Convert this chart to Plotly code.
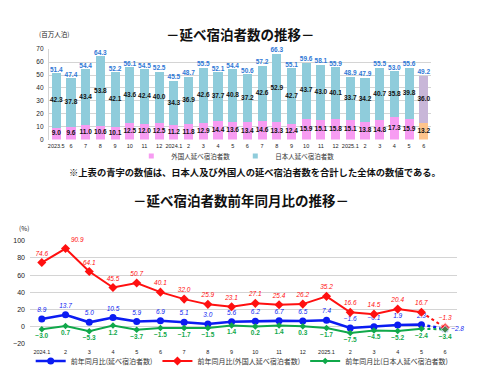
import plotly.graph_objects as go

# ---------------- data ----------------
months_top = ["2023.5", "6", "7", "8", "9", "10", "11", "12", "2024.1", "2", "3", "4", "5",
              "6", "7", "8", "9", "10", "11", "12", "2025.1", "2", "3", "4", "5", "6"]
total = [51.4, 47.4, 54.4, 64.3, 52.2, 56.1, 54.5, 52.5, 45.5, 48.7, 55.5, 52.1, 54.4,
         50.6, 57.2, 66.3, 55.1, 59.6, 58.1, 55.9, 48.9, 47.9, 55.5, 53.0, 55.6, 49.2]
japanese = [42.3, 37.8, 43.4, 53.8, 42.1, 43.6, 42.4, 40.0, 34.3, 36.9, 42.6, 37.7, 40.8,
            37.2, 42.6, 52.9, 42.7, 43.7, 43.0, 40.1, 33.7, 34.2, 40.7, 35.8, 39.8, 36.0]
foreign = [9.0, 9.6, 11.0, 10.6, 10.1, 12.5, 12.0, 12.5, 11.2, 11.8, 12.9, 14.4, 13.6,
           13.4, 14.6, 13.3, 12.4, 15.9, 15.1, 15.8, 15.1, 13.8, 14.8, 17.3, 15.9, 13.2]

months_bottom = ["2024.1", "2", "3", "4", "5", "6", "7", "8", "9", "10", "11", "12",
                 "2025.1", "2", "3", "4", "5", "6"]
yoy_total = [8.9, 13.7, 5.0, 10.5, 5.9, 6.9, 5.1, 3.0, 5.6, 6.2, 6.7, 6.5, 7.4, -1.6, -0.1, 1.9, 2.3, -2.8]
yoy_foreign = [74.6, 90.9, 64.1, 45.5, 50.7, 40.1, 32.0, 25.9, 23.1, 27.1, 25.4, 26.2, 35.2,
               16.6, 14.5, 20.4, 16.7, -1.3]
yoy_japanese = [-3.0, 0.7, -5.3, 1.2, -3.7, -1.5, -1.7, -1.5, 1.4, 0.2, 1.4, 0.3, -1.7,
                -7.5, -4.5, -5.2, -2.4, -3.4]

# ---------------- styles ----------------
JP = "Noto Sans CJK JP"
NUM = "Liberation Sans"
C_JP = "#8FCCDB"
C_FO = "#F79CF2"
C_JP_LAST = "#C8B6D8"
C_FO_LAST = "#FFC48C"
C_TOT = "#2F78D6"
BLUE = "#0B1CF2"
RED = "#FF1010"
GREEN = "#10A84A"
GRID = "#D4D4D4"


def fmt(v):
    s = f"{v:.1f}"
    return s.replace("-", "−")


fig = go.Figure()

# ---------------- top chart ----------------
xt = list(range(len(months_top)))
n = len(xt)
fig.add_trace(go.Bar(x=xt, y=foreign, width=0.62, showlegend=False,
                     marker=dict(color=[C_FO] * (n - 1) + [C_FO_LAST], line=dict(width=0)),
                     xaxis="x", yaxis="y", hoverinfo="skip"))
fig.add_trace(go.Bar(x=xt, y=japanese, width=0.62, showlegend=False,
                     marker=dict(color=[C_JP] * (n - 1) + [C_JP_LAST], line=dict(width=0)),
                     xaxis="x", yaxis="y", hoverinfo="skip"))
# inside labels
lab_font = dict(family=NUM, size=6.5, color="#111111", weight="bold")
fig.add_trace(go.Scatter(x=xt, y=[f / 2 for f in foreign], mode="text", cliponaxis=False,
                         text=[fmt(v) for v in foreign], showlegend=False, textfont=lab_font,
                         xaxis="x", yaxis="y", hoverinfo="skip"))
fig.add_trace(go.Scatter(x=xt, y=[f + j / 2 for f, j in zip(foreign, japanese)], mode="text",
                         cliponaxis=False, text=[fmt(v) for v in japanese], showlegend=False,
                         textfont=lab_font, xaxis="x", yaxis="y", hoverinfo="skip"))
fig.add_trace(go.Scatter(x=xt, y=total, mode="text", textposition="top center", cliponaxis=False,
                         text=[fmt(v) for v in total], showlegend=False,
                         textfont=dict(family=NUM, size=6.5, color=C_TOT, weight="bold"),
                         xaxis="x", yaxis="y", hoverinfo="skip"))
# legend entries for top chart
fig.add_trace(go.Scatter(x=[None], y=[None], mode="markers", name="外国人延べ宿泊者数",
                         marker=dict(symbol="square", size=5, color=C_FO),
                         legend="legend", xaxis="x", yaxis="y"))
fig.add_trace(go.Scatter(x=[None], y=[None], mode="markers", name="日本人延べ宿泊者数",
                         marker=dict(symbol="square", size=5, color=C_JP),
                         legend="legend", xaxis="x", yaxis="y"))

# ---------------- bottom chart ----------------
xb = list(range(len(months_bottom)))
m = len(xb)
series = [
    ("前年同月比(延べ宿泊者数)", yoy_total, BLUE, "circle", 7, 2.6, "italic", "normal"),
    ("前年同月比(外国人延べ宿泊者数)", yoy_foreign, RED, "diamond", 7, 2.0, "italic", "normal"),
    ("前年同月比(日本人延べ宿泊者数)", yoy_japanese, GREEN, "diamond", 5, 2.0, "normal", "bold"),
]
pos_map = {
    0: ["top center"] * (m - 1) + ["middle right"],
    1: ["top center", "top right"] + ["top center"] * (m - 2),
    2: ["bottom center"] * m,
}
for k, (name, vals, col, sym, size, lw, style, weight) in enumerate(series):
    pos = pos_map[k]
    tf = dict(family=NUM, size=6.5, color=col, style=style, weight=weight)
    fig.add_trace(go.Scatter(x=xb[:m - 1], y=vals[:m - 1], mode="lines+markers+text", name=name,
                             text=[fmt(v) for v in vals[:m - 1]], textposition=pos[:m - 1],
                             line=dict(color=col, width=lw), cliponaxis=False,
                             marker=dict(symbol=sym, size=size, color=col), textfont=tf,
                             legend="legend2", xaxis="x2", yaxis="y2", hoverinfo="skip"))
    fig.add_trace(go.Scatter(x=xb[m - 2:], y=vals[m - 2:], mode="lines+markers+text", showlegend=False,
                             text=["", fmt(vals[-1])], textposition=["top center", pos[-1]],
                             line=dict(color=col, width=lw, dash="dot"), cliponaxis=False,
                             marker=dict(symbol=sym, size=[0, size + 1], color=col), textfont=tf,
                             xaxis="x2", yaxis="y2", hoverinfo="skip"))

tickfont = dict(family=NUM, size=5.5, color="#222222")
fig.update_layout(
    width=480, height=390,
    margin=dict(l=0, r=0, t=0, b=0),
    paper_bgcolor="white", plot_bgcolor="white",
    barmode="stack", bargap=0.38,
    font=dict(family=JP, color="#222222"),
    xaxis=dict(domain=[0.1, 0.898], anchor="y", range=[-0.5, n - 0.5], tickmode="array",
               tickvals=xt, ticktext=months_top, tickfont=tickfont, showgrid=False, tickangle=0,
               showline=False, ticks="", ticklabelstandoff=2, zeroline=False),
    yaxis=dict(domain=[0.646, 0.882], anchor="x", range=[0, 70], dtick=10,
               tickfont=dict(family=NUM, size=6.5, color="#222222"), gridcolor=GRID, gridwidth=1,
               showline=True, linecolor=GRID, linewidth=1, zeroline=False, ticks="",
               ticklabelstandoff=3),
    xaxis2=dict(domain=[0.0604, 0.952], anchor="y2", range=[-0.5, m - 0.5], tickmode="array",
                tickvals=xb, ticktext=months_bottom, tickfont=tickfont, showgrid=False, tickangle=0,
                showline=False, ticks="", ticklabelstandoff=4, zeroline=False),
    yaxis2=dict(domain=[0.1128, 0.382], anchor="x2", range=[-20, 100], dtick=20,
                tickfont=dict(family=NUM, size=7, color="#222222"), gridcolor=GRID, gridwidth=1.3,
                showline=False, zeroline=True, zerolinecolor=GRID, zerolinewidth=1.3, ticks="",
                ticklabelstandoff=4),
    legend=dict(orientation="h", x=0.272, y=0.603, xanchor="left", yanchor="middle",
                font=dict(family=JP, size=6.5, color="#333333"),
                traceorder="normal", itemsizing="trace", bgcolor="rgba(0,0,0,0)", itemwidth=30),
    legend2=dict(orientation="h", x=0.062, y=0.068, xanchor="left", yanchor="middle",
                 font=dict(family=JP, size=7, color="#333333"),
                 traceorder="normal", bgcolor="rgba(0,0,0,0)", itemwidth=30),
    annotations=[
        dict(text="－延べ宿泊者数の推移－", x=0.5, y=1 - 18 / 390, xref="paper", yref="paper",
             showarrow=False, font=dict(family=JP, size=13.5, color="#111111", weight="bold")),
        dict(text="(百万人泊)", x=36 / 480, y=1 - 35 / 390, xref="paper", yref="paper",
             xanchor="left", yanchor="bottom", yshift=-3, showarrow=False,
             font=dict(family=JP, size=6.5, color="#222222")),
        dict(text="※上表の青字の数値は、日本人及び外国人の延べ宿泊者数を合計した全体の数値である。",
             x=255 / 480, y=1 - 171 / 390, xref="paper", yref="paper", showarrow=False,
             font=dict(family=JP, size=9.3, color="#111111", weight="bold")),
        dict(text="－延べ宿泊者数前年同月比の推移－", x=0.5, y=1 - 200 / 390, xref="paper", yref="paper",
             showarrow=False, font=dict(family=JP, size=13.5, color="#111111", weight="bold")),
        dict(text="(%)", x=16 / 480, y=1 - 228 / 390, xref="paper", yref="paper",
             xanchor="left", showarrow=False, font=dict(family=JP, size=6.5, color="#222222")),
    ],
)

fig.write_html("out.html", config={"displayModeBar": False},
               post_script="document.body.style.margin='0';")
